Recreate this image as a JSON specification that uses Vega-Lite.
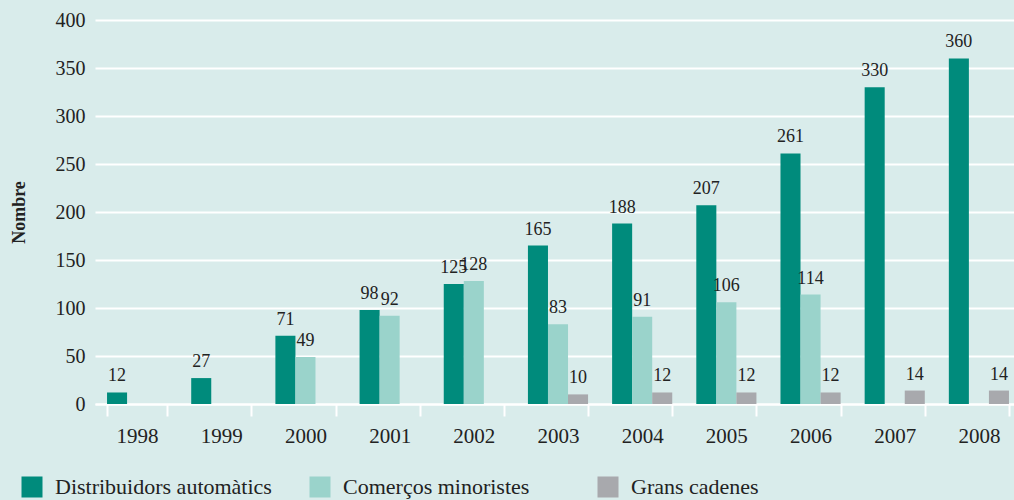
{
  "$schema": "https://vega.github.io/schema/vega-lite/v6.json",
  "autosize": {"type": "none"},
  "padding": {"left": 95, "top": 20, "right": 0, "bottom": 96},
  "width": 926,
  "height": 384,
  "background": "#d9eceb",
  "config": {
    "view": {"stroke": null},
    "font": "Liberation Serif"
  },
  "data": {
    "values": [
      {"year": "1998", "series": "Distribuidors automàtics", "value": 12},
      {"year": "1999", "series": "Distribuidors automàtics", "value": 27},
      {"year": "2000", "series": "Distribuidors automàtics", "value": 71},
      {"year": "2000", "series": "Comerços minoristes", "value": 49},
      {"year": "2001", "series": "Distribuidors automàtics", "value": 98},
      {"year": "2001", "series": "Comerços minoristes", "value": 92},
      {"year": "2002", "series": "Distribuidors automàtics", "value": 125},
      {"year": "2002", "series": "Comerços minoristes", "value": 128},
      {"year": "2003", "series": "Distribuidors automàtics", "value": 165},
      {"year": "2003", "series": "Comerços minoristes", "value": 83},
      {"year": "2003", "series": "Grans cadenes", "value": 10},
      {"year": "2004", "series": "Distribuidors automàtics", "value": 188},
      {"year": "2004", "series": "Comerços minoristes", "value": 91},
      {"year": "2004", "series": "Grans cadenes", "value": 12},
      {"year": "2005", "series": "Distribuidors automàtics", "value": 207},
      {"year": "2005", "series": "Comerços minoristes", "value": 106},
      {"year": "2005", "series": "Grans cadenes", "value": 12},
      {"year": "2006", "series": "Distribuidors automàtics", "value": 261},
      {"year": "2006", "series": "Comerços minoristes", "value": 114},
      {"year": "2006", "series": "Grans cadenes", "value": 12},
      {"year": "2007", "series": "Distribuidors automàtics", "value": 330},
      {"year": "2007", "series": "Grans cadenes", "value": 14},
      {"year": "2008", "series": "Distribuidors automàtics", "value": 360},
      {"year": "2008", "series": "Grans cadenes", "value": 14}
    ]
  },
  "encoding": {
    "x": {
      "field": "year",
      "type": "nominal",
      "scale": {"paddingInner": 0.2857, "paddingOuter": 0.1429},
      "axis": {
        "title": null,
        "labelAngle": 0,
        "tickBand": "extent",
        "tickSize": 12,
        "tickColor": "white",
        "tickWidth": 2,
        "domainColor": "white",
        "domainWidth": 2,
        "labelFont": "Liberation Serif",
        "labelFontSize": 21,
        "labelColor": "#222222",
        "labelPadding": 9
      }
    },
    "xOffset": {
      "field": "series",
      "type": "nominal",
      "scale": {"domain": ["Distribuidors automàtics", "Comerços minoristes", "Grans cadenes"], "paddingInner": 0, "paddingOuter": 0}
    },
    "y": {
      "field": "value",
      "type": "quantitative",
      "scale": {"domain": [0, 400], "nice": false},
      "axis": {
        "title": "Nombre",
        "titleFont": "Liberation Serif",
        "titleFontSize": 18,
        "titleFontWeight": "bold",
        "titleColor": "#222222",
        "titlePadding": 27,
        "values": [0, 50, 100, 150, 200, 250, 300, 350, 400],
        "grid": true,
        "gridColor": "white",
        "gridWidth": 2,
        "gridOpacity": 1,
        "domain": false,
        "ticks": false,
        "labelPadding": 10,
        "labelFont": "Liberation Serif",
        "labelFontSize": 20,
        "labelColor": "#222222"
      }
    }
  },
  "layer": [
    {
      "mark": {"type": "bar"},
      "encoding": {
        "color": {
          "field": "series",
          "type": "nominal",
          "scale": {
            "domain": ["Distribuidors automàtics", "Comerços minoristes", "Grans cadenes"],
            "range": ["#008b7c", "#9ad3cb", "#a8a9ad"]
          },
          "legend": {
            "title": null,
            "orient": "none",
            "direction": "horizontal",
            "legendX": -74,
            "legendY": 456,
            "symbolType": "square",
            "symbolSize": 441,
            "symbolStrokeWidth": 0,
            "symbolOpacity": 1,
            "labelFont": "Liberation Serif",
            "labelFontSize": 22,
            "labelColor": "#222222",
            "labelOffset": 12,
            "labelLimit": 400,
            "gridAlign": "all",
            "columns": 3,
            "columnPadding": 37
          }
        }
      }
    },
    {
      "mark": {"type": "text", "baseline": "bottom", "align": "center", "dy": -7, "font": "Liberation Serif", "fontSize": 18, "color": "#222222"},
      "encoding": {
        "text": {"field": "value", "type": "quantitative"}
      }
    }
  ]
}
